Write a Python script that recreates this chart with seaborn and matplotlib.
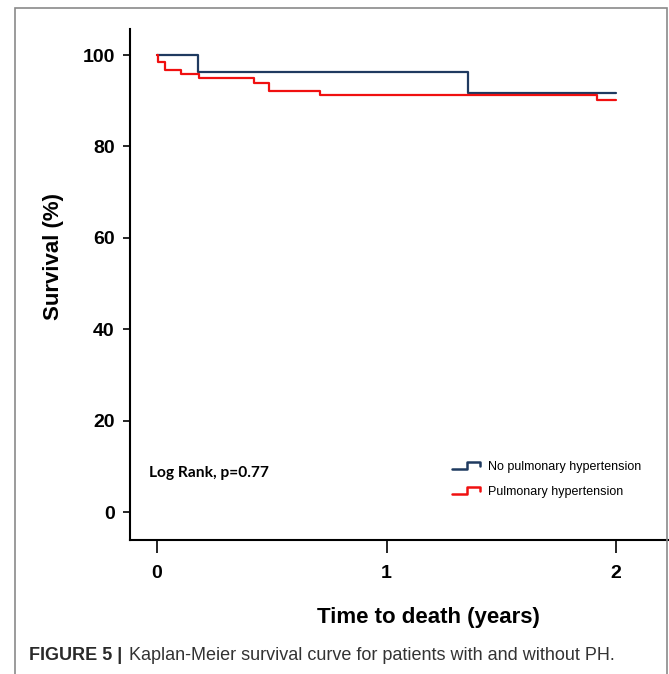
import seaborn as sns
import numpy as np
import pandas as pd
import matplotlib.pyplot as plt
from matplotlib.legend_handler import HandlerBase
from matplotlib.lines import Line2D
from matplotlib.patches import Rectangle

# Kaplan-Meier step points (time in years, survival in %)
no_ph_time = [0.0, 0.177, 1.354, 2.0]
no_ph_surv = [100.0, 96.2, 91.6, 91.6]
ph_time = [0.0, 0.006, 0.035, 0.105, 0.183, 0.423, 0.488, 0.71, 1.916, 2.0]
ph_surv = [100.0, 98.4, 96.7, 95.9, 94.9, 93.9, 92.1, 91.2, 90.1, 90.1]

groups = ["No pulmonary hypertension", "Pulmonary hypertension"]
colors = ["#1f3a60", "#f01010"]
x_ticks = [0, 1, 2]
y_ticks = [0, 20, 40, 60, 80, 100]

df = pd.concat([
    pd.DataFrame({"time": no_ph_time, "surv": no_ph_surv, "group": groups[0]}),
    pd.DataFrame({"time": ph_time, "surv": ph_surv, "group": groups[1]}),
])

sns.set_style("ticks")
plt.rcParams["font.family"] = ["Liberation Sans", "DejaVu Sans"]
plt.rcParams["text.color"] = "black"
plt.rcParams["axes.labelcolor"] = "black"
plt.rcParams["xtick.color"] = "black"
plt.rcParams["ytick.color"] = "black"

W, H = 669, 674
fig = plt.figure(figsize=(W / 100, H / 100), dpi=100)
ax = fig.add_axes([130 / W, 1 - 540 / H, 539 / W, (540 - 29) / H])

sns.lineplot(data=df, x="time", y="surv", hue="group", palette=colors,
             drawstyle="steps-post", estimator=None, linewidth=1.6, ax=ax,
             legend=False)

ax.set_xlim(-0.118, 2.23)
ax.set_ylim(-6.1, 105.7)
ax.set_xticks(x_ticks)
ax.set_yticks(y_ticks)
ax.set_xticklabels([str(t) for t in x_ticks], fontsize=14, fontweight="bold")
ax.set_yticklabels([str(t) for t in y_ticks], fontsize=14, fontweight="bold")
sns.despine(ax=ax)
for s in ["left", "bottom"]:
    ax.spines[s].set_linewidth(1.5)
    ax.spines[s].set_color("black")
ax.tick_params(axis="y", length=5, width=1.2, pad=6)
ax.tick_params(axis="x", length=9, width=1.2, pad=9)

ax.set_xlabel("Time to death (years)", fontsize=16, fontweight="bold", va="center")
ax.xaxis.set_label_coords((428 - 130) / 539, -(618 - 540) / 511)
ax.set_ylabel("Survival (%)", fontsize=16, fontweight="bold", va="center")
ax.yaxis.set_label_coords((53 - 130) / 539, (540 - 256) / 511)

ax.text((149 - 130) / 539, (540 - 473) / 511, "Log Rank, p=0.77", transform=ax.transAxes,
        fontsize=11.2, fontweight="bold", family=["Lato", "DejaVu Sans"], va="center", ha="left")


class StepHandler(HandlerBase):
    def create_artists(self, legend, orig_handle, xdescent, ydescent, width, height, fontsize, trans):
        xs = np.array([0, 0.55, 0.55, 1.0, 1.0]) * width - xdescent
        ys = np.array([0.15, 0.15, 0.85, 0.85, 0.45]) * height - ydescent
        line = Line2D(xs, ys, color=orig_handle.get_color(), linewidth=1.8)
        line.set_transform(trans)
        return [line]


handles = [Line2D([], [], color=c) for c in colors]
ax.legend(handles, groups, handler_map={Line2D: StepHandler()}, frameon=False,
          loc="upper left", bbox_to_anchor=(452 / W, 1 - 461 / H), bbox_transform=fig.transFigure,
          fontsize=9, handlelength=2.2, handleheight=0.8, handletextpad=0.65,
          labelspacing=1.0, borderpad=0, borderaxespad=0)

# outer frame of the figure panel
fig.patches.append(Rectangle((15 / W, -0.01), (667 - 15) / W, 1.01 - 7.5 / H,
                             transform=fig.transFigure, fill=False, edgecolor="#8a8a8a",
                             linewidth=1.2))

renderer = fig.canvas.get_renderer()
t1 = fig.text(29 / W, 1 - 655 / H, "FIGURE 5 |", fontsize=13, fontweight="bold",
              color="#2a2a2a", va="center", ha="left")
bb = t1.get_window_extent(renderer)
fig.text((bb.x1 + 7) / W, 1 - 655 / H, "Kaplan-Meier survival curve for patients with and without PH.",
         fontsize=13, color="#333333", va="center", ha="left")

fig.savefig("out.png", dpi=100)
